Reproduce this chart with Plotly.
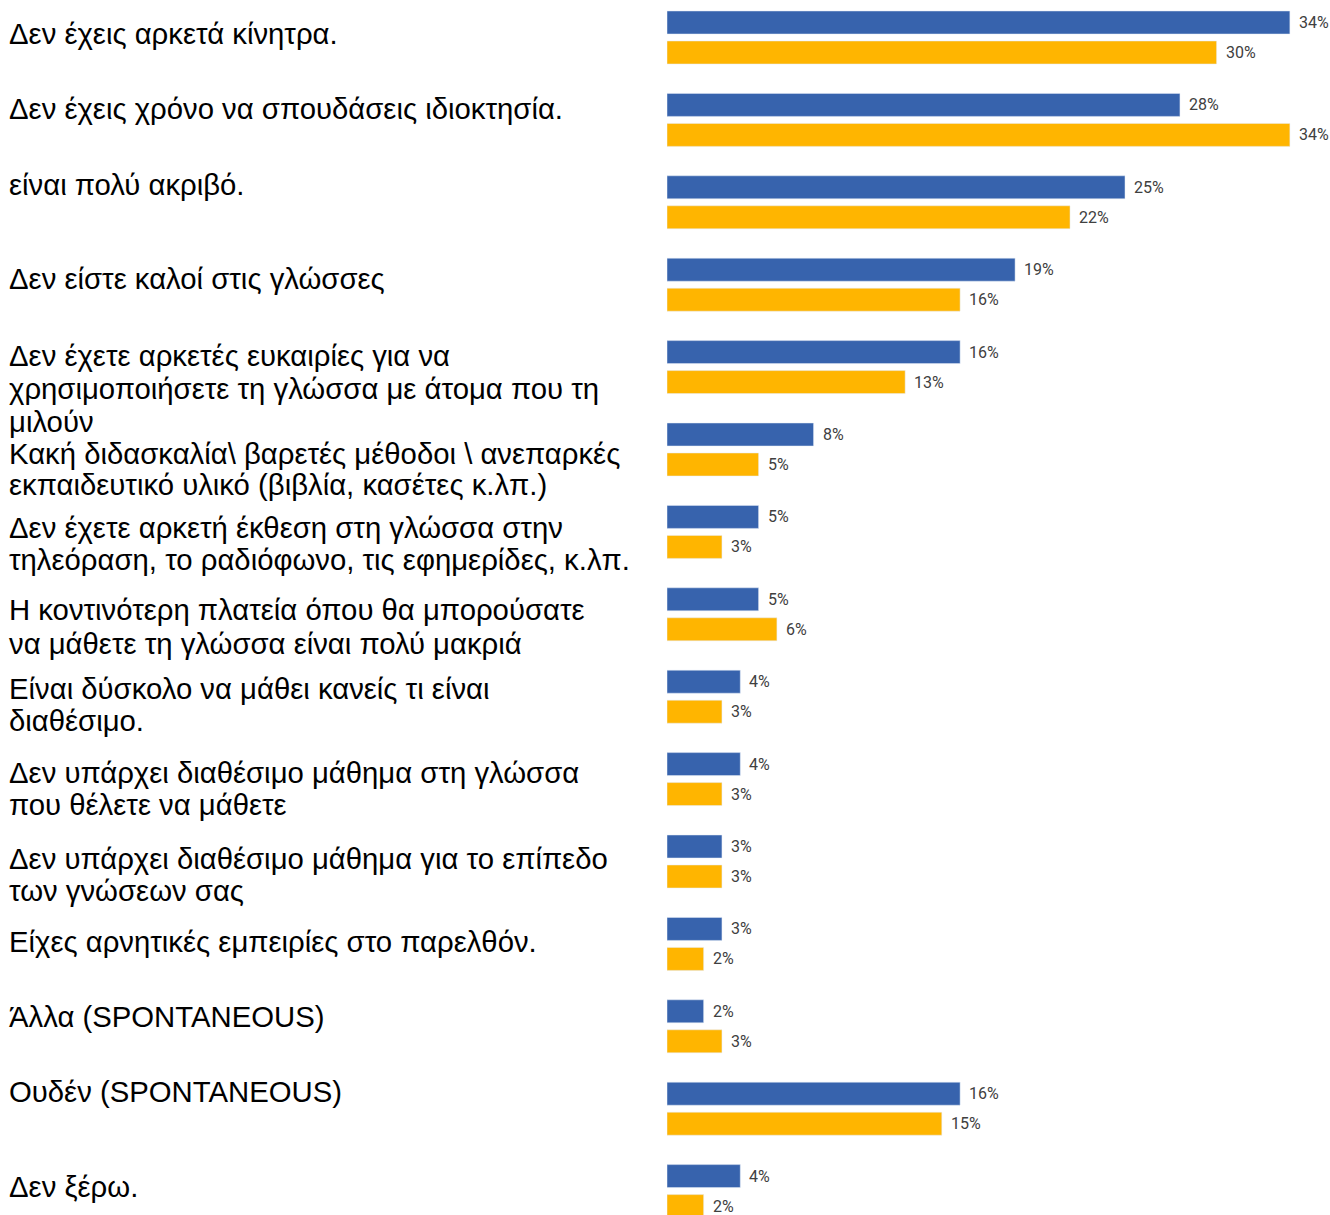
import plotly.graph_objects as go

categories = [
    "Δεν έχεις αρκετά κίνητρα.",
    "Δεν έχεις χρόνο να σπουδάσεις ιδιοκτησία.",
    "είναι πολύ ακριβό.",
    "Δεν είστε καλοί στις γλώσσες",
    "Δεν έχετε αρκετές ευκαιρίες για να<br>χρησιμοποιήσετε τη γλώσσα με άτομα που τη<br>μιλούν",
    "Κακή διδασκαλία\\ βαρετές μέθοδοι \\ ανεπαρκές<br>εκπαιδευτικό υλικό (βιβλία, κασέτες κ.λπ.)",
    "Δεν έχετε αρκετή έκθεση στη γλώσσα στην<br>τηλεόραση, το ραδιόφωνο, τις εφημερίδες, κ.λπ.",
    "Η κοντινότερη πλατεία όπου θα μπορούσατε<br>να μάθετε τη γλώσσα είναι πολύ μακριά",
    "Είναι δύσκολο να μάθει κανείς τι είναι<br>διαθέσιμο.",
    "Δεν υπάρχει διαθέσιμο μάθημα στη γλώσσα<br>που θέλετε να μάθετε",
    "Δεν υπάρχει διαθέσιμο μάθημα για το επίπεδο<br>των γνώσεων σας",
    "Είχες αρνητικές εμπειρίες στο παρελθόν.",
    "Άλλα (SPONTANEOUS)",
    "Ουδέν (SPONTANEOUS)",
    "Δεν ξέρω.",
]
series_blue = [34, 28, 25, 19, 16, 8, 5, 5, 4, 4, 3, 3, 2, 16, 4]
series_orange = [30, 34, 22, 16, 13, 5, 3, 6, 3, 3, 3, 2, 3, 15, 2]

# ---- layout only (not data): baseline pixel of each text line of the left labels
label_baselines_px = [
    [44], [119], [195], [289],
    [365.5, 399, 431.5],
    [463.5, 495],
    [537.5, 569.5],
    [620, 653.5],
    [698.5, 731],
    [782.5, 814.5],
    [868.5, 900.5],
    [951.5], [1026.5], [1101.5], [1196.5],
]

W, H = 1330, 1215
PLOT_LEFT = 667
BLUE = "#3763AD"
ORANGE = "#FFB500"
LABEL_SIZE = 29.3
LABEL_FONT = dict(family="Liberation Sans, Arial, sans-serif", size=LABEL_SIZE, color="#000000")
VALUE_FONT = dict(family="Roboto, Liberation Sans, Arial, sans-serif", size=16, color="#404040")

idx = list(range(len(categories)))

fig = go.Figure()
fig.add_trace(go.Bar(y=idx, x=series_blue, orientation="h", marker_color=BLUE,
                     name="blue", hoverinfo="skip"))
fig.add_trace(go.Bar(y=idx, x=series_orange, orientation="h", marker_color=ORANGE,
                     name="orange", hoverinfo="skip"))

annotations = []
for i, (b, o) in enumerate(zip(series_blue, series_orange)):
    annotations.append(dict(x=b, y=i, xref="x", yref="y", text=f"{b}%", showarrow=False,
                            xanchor="left", yanchor="middle", xshift=7, yshift=15,
                            font=VALUE_FONT))
    annotations.append(dict(x=o, y=i, xref="x", yref="y", text=f"{o}%", showarrow=False,
                            xanchor="left", yanchor="middle", xshift=7, yshift=-15,
                            font=VALUE_FONT))

for lab, bases in zip(categories, label_baselines_px):
    for line, base in zip(lab.split("<br>"), bases):
        annotations.append(dict(x=0, y=1 - (base - 0.3465 * LABEL_SIZE) / H,
                                xref="paper", yref="paper",
                                text=line, showarrow=False,
                                xanchor="left", yanchor="middle", align="left",
                                xshift=-PLOT_LEFT + 7, font=LABEL_FONT))

fig.update_layout(
    width=W, height=H,
    margin=dict(l=PLOT_LEFT, r=0, t=0, b=0),
    paper_bgcolor="white", plot_bgcolor="white",
    barmode="group", bargap=0.272, bargroupgap=0.233,
    showlegend=False,
    xaxis=dict(range=[0, 36.19], visible=False, fixedrange=True),
    yaxis=dict(range=[14.29, -0.455], visible=False, fixedrange=True),
    annotations=annotations,
)
fig.write_html("out.html")
